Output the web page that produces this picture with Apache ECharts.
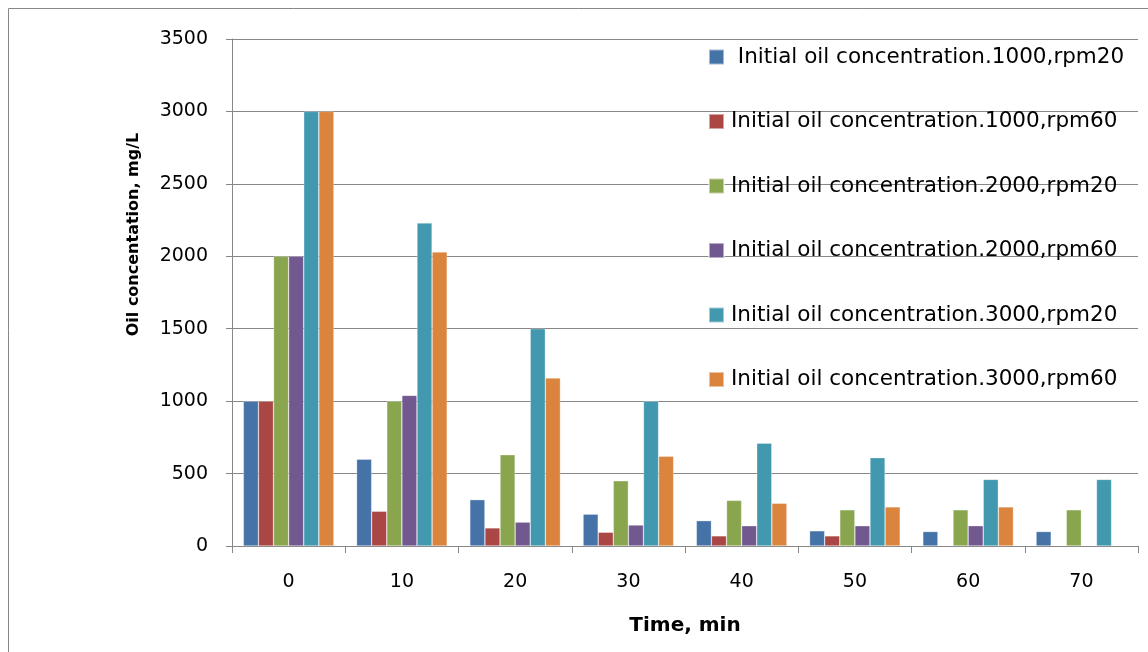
<!DOCTYPE html>
<html>
<head>
<meta charset="utf-8">
<script src="https://cdn.jsdelivr.net/npm/echarts@6/dist/echarts.min.js"></script>
<style>
  html, body { margin: 0; padding: 0; background: #fff; }
  #chart-container { width: 1148px; height: 652px; }
</style>
</head>
<body>
<div id="chart-container"></div>
<script>
// categories (time, min) and tick values
var times = ['0', '10', '20', '30', '40', '50', '60', '70'];
var yTicks = [0, 500, 1000, 1500, 2000, 2500, 3000, 3500];

// series values, null = no bar
var c1000rpm20 = [1000, 600, 320, 220, 175, 105, 100, 100];
var c1000rpm60 = [1000, 240, 125, 95, 70, 70, null, null];
var c2000rpm20 = [2000, 1000, 630, 450, 315, 250, 250, 250];
var c2000rpm60 = [2000, 1040, 165, 145, 140, 140, 140, null];
var c3000rpm20 = [3000, 2230, 1500, 1000, 710, 610, 460, 460];
var c3000rpm60 = [3000, 2030, 1160, 620, 295, 270, 270, null];

var seriesNames = [
    ' Initial oil concentration.1000,rpm20',
    'Initial oil concentration.1000,rpm60',
    'Initial oil concentration.2000,rpm20',
    'Initial oil concentration.2000,rpm60',
    'Initial oil concentration.3000,rpm20',
    'Initial oil concentration.3000,rpm60'
];
var seriesData = [c1000rpm20, c1000rpm60, c2000rpm20, c2000rpm60, c3000rpm20, c3000rpm60];
var colors = ['#4572A7', '#AA4643', '#89A54E', '#71588F', '#4198AF', '#DB843D'];

var fontName = 'DejaVu Sans';
var gridGray = '#878787';

var chart = echarts.init(document.getElementById('chart-container'));

var series = [];
for (var i = 0; i < seriesData.length; i++) {
    series.push({
        name: seriesNames[i],
        type: 'bar',
        data: seriesData[i],
        barGap: '0%',
        barCategoryGap: '20%',
        itemStyle: {
            color: colors[i],
            borderColor: 'rgba(255,255,255,0.5)',
            borderWidth: 0.6
        }
    });
}

var options = {
    animation: false,
    color: colors,
    graphic: [{
        type: 'rect',
        shape: {x: 8.5, y: 8.5, width: 1300, height: 800},
        style: {fill: 'none', stroke: gridGray, lineWidth: 1},
        silent: true,
        z: -1
    }],
    grid: {
        left: 232,
        right: 10,
        top: 39,
        bottom: 106
    },
    legend: {
        orient: 'vertical',
        left: 703,
        top: 40,
        icon: 'rect',
        itemWidth: 15,
        itemHeight: 15,
        itemGap: 40.5,
        textStyle: {
            fontFamily: fontName,
            fontSize: 21.5,
            lineHeight: 24,
            color: '#000',
            padding: [0, 0, 0, 2]
        }
    },
    xAxis: {
        type: 'category',
        data: times,
        name: 'Time, min',
        nameLocation: 'middle',
        nameGap: 70,
        nameTextStyle: {
            fontFamily: fontName,
            fontSize: 20,
            fontWeight: 'bold',
            color: '#000'
        },
        axisLine: {lineStyle: {color: gridGray, width: 1}},
        axisTick: {show: true, alignWithLabel: false, length: 7, lineStyle: {color: gridGray}},
        axisLabel: {
            margin: 27,
            fontFamily: fontName,
            fontSize: 19,
            color: '#000'
        }
    },
    yAxis: {
        type: 'value',
        min: yTicks[0],
        max: yTicks[yTicks.length - 1],
        interval: yTicks[1] - yTicks[0],
        name: 'Oil concentation, mg/L',
        nameLocation: 'middle',
        nameGap: 90,
        nameTextStyle: {
            fontFamily: fontName,
            fontSize: 16,
            fontWeight: 'bold',
            color: '#000',
            padding: [0, 0, 0, 116]
        },
        axisLine: {show: true, lineStyle: {color: gridGray, width: 1}},
        axisTick: {show: true, length: 6, lineStyle: {color: gridGray}},
        axisLabel: {
            margin: 24,
            fontFamily: fontName,
            fontSize: 19,
            color: '#000',
            formatter: function (v) { return String(v); }
        },
        splitLine: {show: true, lineStyle: {color: gridGray, width: 1}}
    },
    series: series
};

chart.setOption(options);
</script>
</body>
</html>
